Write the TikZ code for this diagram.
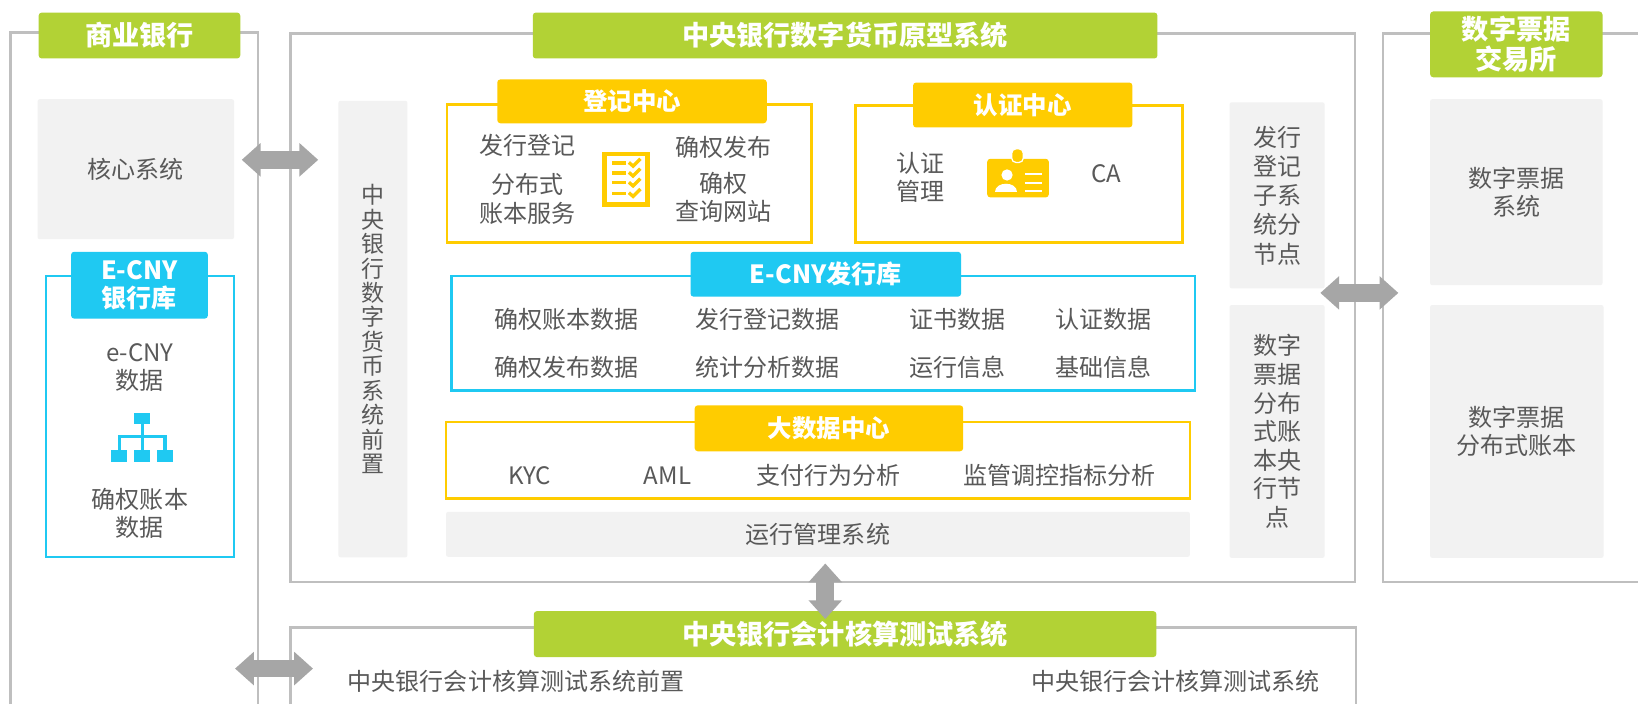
\documentclass[tikz,border=0pt]{standalone}
\usepackage{fontspec}
\setmainfont{Noto Sans CJK SC}
\usepackage{tikz}
\usetikzlibrary{arrows.meta,calc,positioning}
\definecolor{tabgreen}{HTML}{B2D235}
\definecolor{hiyellow}{HTML}{FFCC00}
\definecolor{hicyan}{HTML}{1FC9F2}
\definecolor{framegray}{HTML}{BFBFBF}
\definecolor{boxgray}{HTML}{F2F2F2}
\definecolor{txtgray}{HTML}{595959}
\definecolor{arrowgray}{HTML}{A6A6A6}
\tikzset{%
  outer frame/.style={%
    draw=framegray,
    line width=1.3pt
  }
}
\tikzset{%
  body text/.style={%
    text=txtgray,
    font=\fontsize{11.5}{13.5}\selectfont,
    align=center,
    inner sep=0pt
  }
}
\tikzset{%
  green tab/.style={%
    fill=tabgreen, rounded corners=1.5pt, text=white, inner sep=0pt, align=center,
    font=\fontsize{13}{14.5}\selectfont\bfseries
  }
}
\tikzset{%
  yellow tab/.style={%
    fill=hiyellow, rounded corners=1.5pt, text=white, inner sep=0pt, align=center,
    font=\fontsize{11.7}{13.5}\selectfont\bfseries
  }
}
\tikzset{%
  cyan tab/.style={%
    fill=hicyan, rounded corners=1.5pt, text=white, inner sep=0pt, align=center,
    font=\fontsize{12}{13.5}\selectfont\bfseries
  }
}
\tikzset{%
  yellow frame/.style={draw=hiyellow, line width=1.2pt, inner sep=0pt}
}
\tikzset{%
  cyan frame/.style={draw=hicyan, line width=1.2pt, inner sep=0pt}
}
\tikzset{%
  gray box/.style={fill=boxgray, rounded corners=1pt, body text}
}
\tikzset{%
  wide arrow/.style={%
    draw=arrowgray,
    line width=8.5pt,
    {Triangle[length=9pt,width=15.5pt]}-{Triangle[length=9pt,width=15.5pt]}
  }
}

\begin{document}
\begin{tikzpicture}[x=0.5pt,y=-0.5pt]
  \fill [white] (0,0) rectangle (1568,674);
  \useasboundingbox (0,0) rectangle (1568,674);
  % commercial bank
  \draw [outer frame] (10,674) |- (247,31) -- (247,674);
  \node [green tab, minimum width=96.5pt, minimum height=22pt] (bank) at (133.5,34) {商业银行};
  \node [gray box, minimum width=94pt, minimum height=67pt] (core) at (130,162) {核心系统};
  \node [cyan frame, minimum width=90pt, minimum height=134.5pt] (banklib) at (134,398.5) {};
  \node [cyan tab, minimum width=65.5pt, minimum height=32pt] (banklibtab) at (133.5,273) {E-CNY\\银行库};
  \node [body text] (ecny) at (134,351.5) {e-CNY\\数据};
  \fill [hicyan] (128,395) rectangle (144,406);
  \foreach \x in {106,128,150}
    \fill [hicyan] (\x,431) rectangle ++(16,11);
  \draw [hicyan, line width=1.5pt] (136,406) -- (136,431) (114,431) |- (158,418) -- (158,431);
  \node [body text] (bankledger) at (134,491.5) {确权账本\\数据};
  % prototype system
  \draw [outer frame] (278,32) rectangle (1297,557);
  \node [green tab, minimum width=299pt, minimum height=22pt] (proto) at (809,34) {中央银行数字货币原型系统};
  \node [gray box, minimum width=33pt, minimum height=218.5pt, font=\fontsize{11}{11.7}\selectfont] (front) at (357,315)
    {中\\央\\银\\行\\数\\字\\货\\币\\系\\统\\前\\置};
  \node [yellow frame, minimum width=174.5pt, minimum height=66pt] (reg) at (602.5,166) {};
  \node [yellow tab, minimum width=129pt, minimum height=21pt] (regtab) at (605,97) {登记中心};
  \node [body text] (issue) at (505,139) {发行登记};
  \node [body text] (dist) at (505,190.5) {分布式\\账本服务};
  \node [body text] (pub) at (693,141) {确权发布};
  \node [body text] (query) at (693,189) {确权\\查询网站};
  \draw [hiyellow, line width=2.25pt] (578.5,147.5) rectangle (620,196);
  \foreach \y in {156,165.5,175,185} {
    \draw [hiyellow, line width=1.6pt] (586,\y) -- (599,\y);
    \draw [hiyellow, line width=1.6pt] (602,\y-0.5) -- (606,\y+3) -- (613,\y-4);
  }
  \node [yellow frame, minimum width=156.5pt, minimum height=65.5pt] (auth) at (975.5,166.5) {};
  \node [yellow tab, minimum width=105pt, minimum height=21.5pt] (authtab) at (979,100.5) {认证中心};
  \node [body text] (authmgmt) at (881,169.5) {认证\\管理};
  \node [body text] (ca) at (1059,166) {CA};
  \fill [hiyellow, rounded corners=1.5pt] (945,152) rectangle (1004,189);
  \filldraw [fill=hiyellow, draw=white, line width=0.6pt, rounded corners=2pt] (968.5,142.5) rectangle (979.5,155.5);
  \fill [white] (964,167.5) circle [radius=2.7pt];
  \fill [white] (952,184) .. controls (952,173) and (974,173) .. (974,184) -- cycle;
  \draw [white, line width=0.8pt] (981,166.5) -- (997,166.5) (981,175) -- (997,175) (981,183) -- (997,183);
  \node [cyan frame, minimum width=356pt, minimum height=55pt] (issuelib) at (788,319) {};
  \node [cyan tab, minimum width=129.5pt, minimum height=21.5pt] (issuelibtab) at (790.5,262.5) {E-CNY发行库};
  \node [body text] (rightsdata) at (542,306) {确权账本数据};
  \node [body text] (regdata) at (735,306) {发行登记数据};
  \node [body text] (certdata) at (917,306) {证书数据};
  \node [body text] (authdata) at (1056,306) {认证数据};
  \node [body text] (pubdata) at (542,352) {确权发布数据};
  \node [body text] (statdata) at (735,352) {统计分析数据};
  \node [body text] (opsinfo) at (917,352) {运行信息};
  \node [body text] (baseinfo) at (1056,352) {基础信息};
  \node [yellow frame, minimum width=356pt, minimum height=36.5pt] (bigdata) at (783,440.5) {};
  \node [yellow tab, minimum width=128.5pt, minimum height=22pt] (bigdatatab) at (793.5,410) {大数据中心};
  \node [body text] (kyc) at (507,455) {KYC};
  \node [body text] (aml) at (639,455) {AML};
  \node [body text] (payana) at (793,455) {支付行为分析};
  \node [body text] (supana) at (1014,455) {监管调控指标分析};
  \node [gray box, minimum width=356pt, minimum height=21.5pt] (ops) at (783,511.5) {运行管理系统};
  \node [gray box, minimum width=45.5pt, minimum height=89pt, font=\fontsize{11.5}{14}\selectfont] (issnode) at (1222.5,187)
    {发行\\登记\\子系\\统分\\节点};
  \node [gray box, minimum width=45.5pt, minimum height=121pt, font=\fontsize{11.5}{13.7}\selectfont] (ledgernode) at (1222.5,413)
    {数字\\票据\\分布\\式账\\本央\\行节\\点};
  % bill exchange
  \draw [outer frame] (1568,32) -| (1324,557) -- (1568,557);
  \node [green tab, minimum width=82.5pt, minimum height=31.5pt] (exchange) at (1451.5,42.5) {数字票据\\交易所};
  \node [gray box, minimum width=82.5pt, minimum height=89pt] (billsys) at (1451.5,184) {数字票据\\系统};
  \node [gray box, minimum width=83pt, minimum height=121pt] (billledger) at (1452,413) {数字票据\\分布式账本};
  % accounting test system
  \draw [outer frame] (278,674) |- (1298,601) -- (1298,674);
  \node [green tab, minimum width=298pt, minimum height=22pt] (acct) at (809,607) {中央银行会计核算测试系统};
  \node [body text] (acctfront) at (494,652) {中央银行会计核算测试系统前置};
  \node [body text] (acctsys) at (1125,652) {中央银行会计核算测试系统};
  % links
  \coordinate (bankedge) at (225,640);
  \draw [wide arrow] ($(core.east)+(7,-9)$) -- ($(front.west |- core.east)+(-19,-9)$);
  \draw [wide arrow] (bankedge) -- ($(acctfront.west |- bankedge)+(-33,0)$);
  \draw [wide arrow] ($(issnode.south east)+(-4.5,4)$) -- ($(billsys.west |- issnode.south)+(-30,4)$);
  \draw [wide arrow] ($(ops.south)+(7,6)$) -- ($(ops.south |- acct.north)+(7,8)$);
\end{tikzpicture}
\end{document}
